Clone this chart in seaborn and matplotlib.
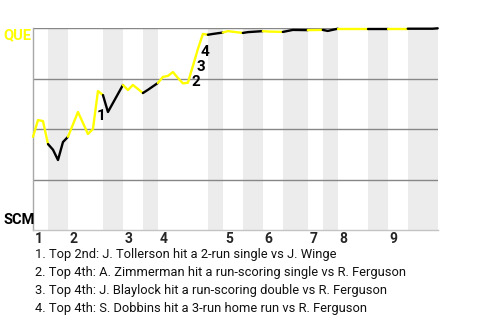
import matplotlib
matplotlib.use("Agg")
import matplotlib.pyplot as plt
import matplotlib.transforms as mtransforms
import seaborn as sns
import pandas as pd

# ---- data -------------------------------------------------------------
plays = [0, 1, 2, 3, 4, 5, 6, 7, 9, 11, 12, 13, 14, 15, 18, 19, 20, 22, 23, 25,
         26, 27, 28, 29, 30, 31, 32, 33, 34, 35, 36, 38, 39, 40, 42, 43, 46, 47,
         50, 52, 55, 58, 59, 61, 67, 71, 75, 80, 81]
wp = [0.462, 0.545, 0.540, 0.426, 0.398, 0.347, 0.436, 0.462, 0.585, 0.476,
      0.501, 0.689, 0.669, 0.585, 0.719, 0.694, 0.719, 0.679, 0.695, 0.729,
      0.759, 0.764, 0.783, 0.754, 0.727, 0.730, 0.813, 0.897, 0.972, 0.968,
      0.972, 0.979, 0.986, 0.983, 0.977, 0.981, 0.986, 0.984, 0.982, 0.992,
      0.991, 0.992, 0.987, 0.998, 0.998, 0.998, 0.998, 0.998, 1.0]
half_bounds = [0, 3, 7, 14, 18, 22, 25, 35, 38, 42, 46, 50, 55, 58, 61, 67, 71, 75, 81]
inning_labels = ["1", "2", "3", "4", "5", "6", "7", "8", "9"]
team_top, team_bottom = "QUE", "SCM"
event_plays = [13, 32, 33, 34]
event_notes = [
    "1. Top 2nd: J. Tollerson hit a 2-run single vs J. Winge",
    "2. Top 4th: A. Zimmerman hit a run-scoring single vs R. Ferguson",
    "3. Top 4th: J. Blaylock hit a run-scoring double vs R. Ferguson",
    "4. Top 4th: S. Dobbins hit a 3-run home run vs R. Ferguson",
]

# ---- style ------------------------------------------------------------
sns.set_style("white")
plt.rcParams["font.family"] = ["Roboto", "DejaVu Sans"]
YELLOW = "#ffff00"
BAND = "#ececec"
GRID = "#878787"
COND = ["Liberation Sans Narrow", "Roboto", "DejaVu Sans"]

df = pd.DataFrame({"play": plays, "wp": wp})

fig = plt.figure(figsize=(4.8, 3.2), dpi=100)
ax = fig.add_axes([33 / 480, 1 - 230 / 320, (437.7 - 33) / 480, (230 - 28.3) / 320])

# shaded bottom halves
for i in range(1, len(half_bounds) - 1, 2):
    ax.axvspan(half_bounds[i], half_bounds[i + 1], color=BAND, lw=0, zorder=0)

# gridlines
for yv in [0.25, 0.5, 0.75, 1.0]:
    ax.axhline(yv, color=GRID, lw=1, zorder=1)

# line, coloured per half inning
for i in range(len(half_bounds) - 1):
    lo, hi = half_bounds[i], half_bounds[i + 1]
    seg = df[(df.play >= lo) & (df.play <= hi)]
    sns.lineplot(data=seg, x="play", y="wp", color=YELLOW if i % 2 == 0 else "black",
                 lw=1.7, ax=ax, zorder=3, clip_on=False, sort=False, estimator=None,
                 solid_capstyle="round", solid_joinstyle="round")

# event markers
label_offsets = [(3.5, -24.5), (2.5, -15.5), (3, -18), (2.5, -18.5)]
for k, p in enumerate(event_plays):
    ax.annotate(str(k + 1), xy=(p, df.loc[df.play == p, "wp"].iloc[0]),
                xytext=label_offsets[k], textcoords="offset pixels",
                ha="center", va="center", fontsize=11, fontweight="bold",
                family=COND, color="black", zorder=4)

ax.set_xlim(0, 81)
ax.set_ylim(0, 1)
ax.set_xlabel("")
ax.set_ylabel("")
ax.set_yticks([])
inning_starts = half_bounds[0::2][:9]
ax.set_xticks(inning_starts)
ax.set_xticklabels(inning_labels, fontsize=10, fontweight="bold", family=COND)
ax.tick_params(axis="x", length=0, pad=1.5)
for lab in ax.get_xticklabels():
    lab.set_ha("left")
    lab.set_transform(lab.get_transform() + mtransforms.ScaledTranslation(2 / 100, 0, fig.dpi_scale_trans))

for s in ["top", "right"]:
    ax.spines[s].set_visible(False)
ax.spines["left"].set_color("#a8a8a8")
ax.spines["left"].set_linewidth(1)
ax.spines["bottom"].set_color("#c4c4c4")
ax.spines["bottom"].set_linewidth(1)

# team labels
fig.text(3 / 480, 1 - 35 / 320, team_top, color=YELLOW, fontsize=10.5, fontweight="bold",
         family=COND, ha="left", va="center")
fig.text(3 / 480, 1 - 220.5 / 320, team_bottom, color="black", fontsize=10.5, fontweight="bold",
         family=COND, ha="left", va="center")

# notes
for k, note in enumerate(event_notes):
    fig.text(35 / 480, 1 - (258.3 + 17.8 * k) / 320, note, fontsize=9.25, color="#111111",
             ha="left", va="baseline")

fig.savefig("out.png", dpi=100)
